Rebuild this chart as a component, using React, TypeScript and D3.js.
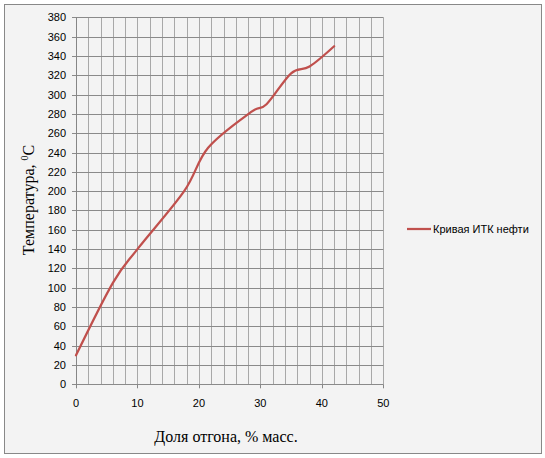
import React from "react";
import * as d3 from "d3";

const distilled = [0, 6, 10, 17.6, 21.5, 28.5, 31, 35, 38, 42];
const temperature = [30, 105, 140, 200, 245, 282, 290, 322, 329, 350];
const seriesName = "Кривая ИТК нефти";
const xTicks = [0, 10, 20, 30, 40, 50];
const yTicks = d3.range(0, 381, 20);
const xMinor = d3.range(0, 51, 2);
const xTitle = "Доля отгона, % масс.";

export default function App() {
  const W = 545, H = 458;
  const x = d3.scaleLinear().domain([0, 50]).range([76, 383.3]);
  const y = d3.scaleLinear().domain([0, 380]).range([384.3, 17.3]);
  const pts: [number, number][] = distilled.map((d, i) => [x(d), y(temperature[i])]);
  const path = d3.line().curve(d3.curveCardinal.tension(0))(pts) || "";
  const tickFont = "'Liberation Sans', Arial, sans-serif";
  return (
    <svg width={W} height={H} style={{ position: "absolute", left: 0, top: 0 }}>
      <rect x={0} y={0} width={W} height={H} fill="#ffffff" />
      <rect x={4.5} y={4.5} width={537} height={449} fill="#f3f3f3" stroke="#888888" />
      {xMinor.map((v) => (
        <line key={"v" + v} x1={Math.round(x(v)) + 0.5} x2={Math.round(x(v)) + 0.5} y1={y(380)} y2={y(0)} stroke="#a8a8a8" strokeWidth={1} />
      ))}
      {yTicks.map((v) => (
        <line key={"h" + v} x1={72} x2={x(50)} y1={Math.round(y(v)) + 0.5} y2={Math.round(y(v)) + 0.5} stroke="#8a8a8a" strokeWidth={1} />
      ))}
      <line x1={76.5} x2={76.5} y1={y(380)} y2={y(0)} stroke="#868686" />
      {xTicks.map((v) => (
        <line key={"t" + v} x1={Math.round(x(v)) + 0.5} x2={Math.round(x(v)) + 0.5} y1={y(0)} y2={y(0) + 4} stroke="#868686" />
      ))}
      {yTicks.map((v) => (
        <text key={"yl" + v} x={66} y={y(v) + 4} textAnchor="end" fontFamily={tickFont} fontSize={11} fill="#000">{v}</text>
      ))}
      {xTicks.map((v) => (
        <text key={"xl" + v} x={x(v)} y={407} textAnchor="middle" fontFamily={tickFont} fontSize={11} fill="#000">{v}</text>
      ))}
      <path d={path} fill="none" stroke="#c0504d" strokeWidth={2.25} strokeLinejoin="round" strokeLinecap="round" />
      <text x={226} y={442} textAnchor="middle" fontFamily="'Liberation Serif', 'Times New Roman', serif" fontSize={16} fill="#000">{xTitle}</text>
      <text transform="translate(34,200) rotate(-90)" textAnchor="middle" fontFamily="'Liberation Serif', 'Times New Roman', serif" fontSize={16} fill="#000">
        Температура, <tspan fontSize={10} dy={-6}>0</tspan><tspan dy={6}>С</tspan>
      </text>
      <line x1={407} x2={431} y1={229} y2={229} stroke="#c0504d" strokeWidth={2.25} />
      <text x={433} y={233} fontFamily={tickFont} fontSize={11} fill="#000">{seriesName}</text>
    </svg>
  );
}
